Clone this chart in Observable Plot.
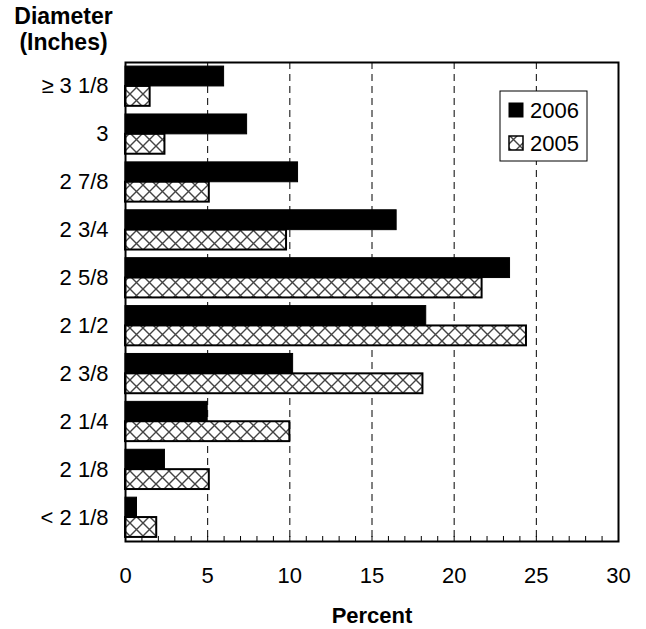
<!DOCTYPE html>
<html><head><meta charset="utf-8">
<script src="https://cdn.jsdelivr.net/npm/d3@7"></script>
<script src="https://cdn.jsdelivr.net/npm/@observablehq/plot@0.6"></script>
<style>html,body{margin:0;padding:0;background:#fff}</style>
</head><body><div id="chart"></div>
<script>
const categories = ["≥ 3 1/8", "3", "2 7/8", "2 3/4", "2 5/8", "2 1/2", "2 3/8", "2 1/4", "2 1/8", "< 2 1/8"];
const values2006 = [6.0, 7.4, 10.5, 16.5, 23.4, 18.3, 10.2, 5.0, 2.4, 0.7];
const values2005 = [1.5, 2.4, 5.1, 9.8, 21.7, 24.4, 18.1, 10.0, 5.1, 1.9];
const years = ["2006", "2005"];
const xTicks = [0, 5, 10, 15, 20, 25, 30];
const gridTicks = [5, 10, 15, 20, 25];
const minorTicks = d3.range(1, 30);

const W = 646, H = 629, mt = 62, mb = 88, ml = 125, mr = 28;
const innerH = H - mt - mb;
const pIn = 0.17, pOut = 0.085;
const step = innerH / (categories.length - pIn + 2 * pOut);
const bw = step * (1 - pIn);

const rows2006 = categories.map((c, i) => ({diameter: c, value: values2006[i]}));
const rows2005 = categories.map((c, i) => ({diameter: c, value: values2005[i]}));
const font = "'Liberation Sans', Arial, sans-serif";

const plot = Plot.plot({
  width: W, height: H,
  marginTop: mt, marginBottom: mb, marginLeft: ml, marginRight: mr,
  style: {fontFamily: font, fontSize: "22px", color: "black", background: "white", overflow: "visible"},
  x: {domain: [0, 30], ticks: xTicks, tickSize: 0, tickPadding: 26, label: null},
  y: {domain: categories, paddingInner: pIn, paddingOuter: pOut, round: false, tickSize: 0, tickPadding: 17, label: null},
  marks: [
    Plot.ruleX(gridTicks, {stroke: "black", strokeWidth: 1, strokeDasharray: "7,5"}),
    Plot.ruleX(minorTicks, {stroke: "black", strokeWidth: 1, insetTop: innerH - 5}),
    Plot.barX(rows2006, {x: "value", y: "diameter", fill: "black", stroke: "black", strokeWidth: 1, insetBottom: bw / 2}),
    Plot.barX(rows2005, {x: "value", y: "diameter", fill: "url(#hatch)", stroke: "black", strokeWidth: 2, insetTop: bw / 2}),
    Plot.frame({stroke: "black", strokeWidth: 2}),
    Plot.text(["Percent"], {frameAnchor: "bottom", lineAnchor: "middle", dy: 74, fontWeight: "bold", fontSize: 22}),
    Plot.text(["Diameter"], {frameAnchor: "top-left", textAnchor: "middle", lineAnchor: "middle", dx: -62, dy: -46, fontWeight: "bold", fontSize: 23}),
    Plot.text(["(Inches)"], {frameAnchor: "top-left", textAnchor: "middle", lineAnchor: "middle", dx: -62, dy: -20, fontWeight: "bold", fontSize: 23})
  ]
});

const svg = d3.select(plot);
const defs = svg.insert("defs", ":first-child");
const pat = defs.append("pattern").attr("id", "hatch").attr("patternUnits", "userSpaceOnUse")
  .attr("width", 13).attr("height", 13).attr("y", 3);
pat.append("rect").attr("width", 13).attr("height", 13).attr("fill", "white");
pat.append("path").attr("d", "M0,0L13,13M13,0L0,13").attr("stroke", "#444").attr("stroke-width", 1.4);

// legend
const lx = 500, ly = 91;
const lg = svg.append("g").attr("font-family", font).attr("font-size", 22).attr("text-anchor", "start");
lg.append("rect").attr("x", lx).attr("y", ly).attr("width", 87).attr("height", 70)
  .attr("fill", "white").attr("stroke", "black").attr("stroke-width", 1);
years.forEach((yr, i) => {
  const cy = ly + 19 + i * 33;
  lg.append("rect").attr("x", lx + 9).attr("y", cy - 7).attr("width", 14).attr("height", 14)
    .attr("fill", i === 0 ? "black" : "url(#hatch)").attr("stroke", "black").attr("stroke-width", i === 0 ? 1 : 1.5);
  lg.append("text").attr("x", lx + 30).attr("y", cy).attr("dy", "0.35em").attr("text-anchor", "start").text(yr);
});

document.getElementById("chart").append(plot);
</script>
</body></html>
